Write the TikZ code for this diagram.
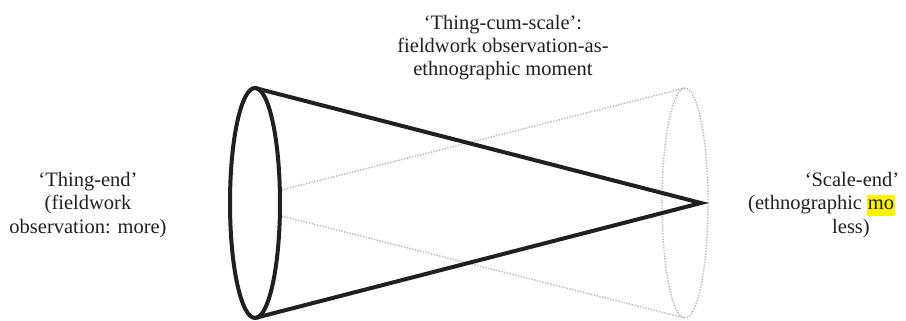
\documentclass[tikz,border=0pt]{standalone}
\usepackage{fontspec}
\setmainfont{Liberation Serif}
\usetikzlibrary{shapes.geometric,backgrounds}
\definecolor{coneInk}{HTML}{231F20}
\definecolor{ghostDot}{HTML}{B8B8B8}
\definecolor{markYellow}{HTML}{FFF200}
\newcommand{\ConeFont}{\fontsize{20.5}{23.5}\selectfont}
\newcommand{\MarkWord}[1]{{\fboxsep=0.8pt\colorbox{markYellow}{\vrule width 0pt height 14pt depth 6pt#1}}}
\tikzset{
  cone rim/.style={
    ellipse, draw=coneInk, fill=white, line width=4pt, outer sep=0pt,
    inner sep=0pt, minimum width=50pt, minimum height=230pt
  },
  ghost rim/.style={
    ellipse, draw=ghostDot, line width=1.4pt, dash pattern=on 1.4pt off 1.4pt,
    outer sep=0pt, inner sep=0pt, minimum width=46pt, minimum height=230pt
  },
  cone edge/.style={coneInk, line width=4pt, miter limit=10},
  ghost edge/.style={ghostDot, line width=1.4pt, dash pattern=on 1.4pt off 1.4pt},
  end label/.style={font=\ConeFont, align=center, text=coneInk, inner sep=0pt},
}

\begin{document}
\begin{tikzpicture}[x=1pt,y=-1pt]
  \useasboundingbox (0,0) rectangle (906,321);

  % Rims of the cone
  \node[cone rim] (thing) at (255,203) {};
  \node[ghost rim] (scale) at (685,203) {};
  \coordinate (apex) at ([xshift=-7pt]scale.east);

  % Hidden cone, dotted (behind the thing-end rim)
  \begin{scope}[on background layer]
    \draw[ghost edge] (thing.west) -- (scale.north);
    \draw[ghost edge] (thing.west) -- (scale.south);
  \end{scope}

  % Solid cone
  \draw[cone edge] (thing.north) -- (apex) -- (thing.south);

  % Labels (base = last line)
  \node[end label, anchor=base] (cum) at (503,76) {%
    ‘Thing-cum-scale’:\\
    fieldwork observation-as-\\
    ethnographic moment};
  \node[end label, anchor=base] (thingEnd) at (88,233) {%
    ‘Thing-end’\\
    (fieldwork\\
    observation: more)};
  \node[end label, anchor=base] (scaleTitle) at (852,186) {‘Scale-end’};
  \node[end label, anchor=base west] (scaleBody) at (748,209.5) {(ethnographic \MarkWord{mo}};
  \node[end label, anchor=base] (scaleTail) at (851,233) {less)};
\end{tikzpicture}
\end{document}
